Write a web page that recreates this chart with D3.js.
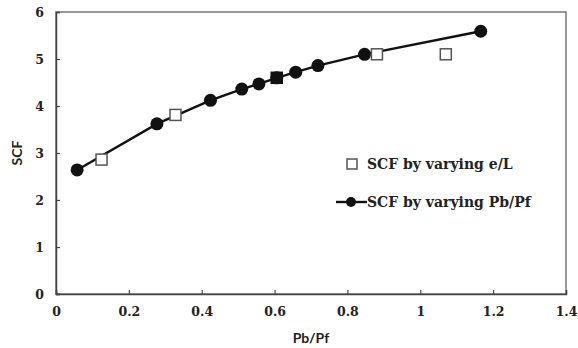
<!DOCTYPE html>
<html>
<head>
<meta charset="utf-8">
<script src="https://cdn.jsdelivr.net/npm/d3@7"></script>
<style>
  body { margin: 0; background: #fff; }
  .tick text { font-family: "DejaVu Serif", serif; font-weight: bold; font-size: 12.5px; fill: #222; }
  .title { font-family: Lato, "Open Sans", sans-serif; font-weight: bold; font-size: 14px; fill: #222; }
  .legend text { font-family: "DejaVu Serif", serif; font-weight: bold; font-size: 14px; fill: #222; }
</style>
</head>
<body>
<svg id="chart" width="578" height="348"></svg>
<script>
// SCF by varying Pb/Pf (line + filled circles)
var pbX = [0.058, 0.277, 0.424, 0.510, 0.557, 0.606, 0.658, 0.719, 0.847, 1.166];
var pbY = [2.64, 3.62, 4.12, 4.36, 4.47, 4.60, 4.72, 4.86, 5.10, 5.59];

// SCF by varying e/L (open squares)
var elX = [0.125, 0.328, 0.606, 0.881, 1.070];
var elY = [2.86, 3.81, 4.60, 5.10, 5.10];

var xTicks = [0, 0.2, 0.4, 0.6, 0.8, 1, 1.2, 1.4];
var yTicks = [0, 1, 2, 3, 4, 5, 6];

var svg = d3.select("#chart"),
    margin = { top: 12, right: 12, bottom: 54, left: 56 },
    width = +svg.attr("width") - margin.left - margin.right,
    height = +svg.attr("height") - margin.top - margin.bottom;

var x = d3.scaleLinear().domain([0, 1.4]).range([0, width]);
var y = d3.scaleLinear().domain([0, 6]).range([height, 0]);

var g = svg.append("g")
    .attr("transform", "translate(" + margin.left + "," + margin.top + ")");

// plot frame
g.append("rect")
    .attr("width", width)
    .attr("height", height)
    .attr("fill", "none")
    .attr("stroke", "#777")
    .attr("stroke-width", 1.5);

// axes with inward ticks
var fmt = function (d) { return String(+d.toFixed(1)); };
var xAxis = g.append("g")
    .attr("transform", "translate(0," + height + ")")
    .call(d3.axisBottom(x).tickValues(xTicks).tickSize(-4).tickPadding(13).tickFormat(fmt));
var yAxis = g.append("g")
    .call(d3.axisLeft(y).tickValues(yTicks).tickSize(-4).tickPadding(12).tickFormat(fmt));

[xAxis, yAxis].forEach(function (a) {
    a.select(".domain").attr("stroke", "#444").attr("stroke-width", 1.5);
    a.selectAll(".tick line").attr("stroke", "#444").attr("stroke-width", 1.2);
});

// axis titles
svg.append("text")
    .attr("class", "title")
    .attr("x", margin.left + width / 2)
    .attr("y", 343)
    .attr("text-anchor", "middle")
    .text("Pb/Pf");

svg.append("text")
    .attr("class", "title")
    .attr("transform", "translate(22," + (margin.top + height / 2) + ") rotate(-90)")
    .attr("text-anchor", "middle")
    .text("SCF");

// Pb/Pf series
var pbData = pbX.map(function (v, i) { return { x: v, y: pbY[i] }; });
var elData = elX.map(function (v, i) { return { x: v, y: elY[i] }; });

var line = d3.line()
    .x(function (d) { return x(d.x); })
    .y(function (d) { return y(d.y); });

g.append("path")
    .datum(pbData)
    .attr("d", line)
    .attr("fill", "none")
    .attr("stroke", "#111")
    .attr("stroke-width", 2.4);

g.selectAll(".dot")
    .data(pbData)
    .enter().append("circle")
    .attr("class", "dot")
    .attr("cx", function (d) { return x(d.x); })
    .attr("cy", function (d) { return y(d.y); })
    .attr("r", 6.5)
    .attr("fill", "#111");

// e/L squares (filled where it sits on a Pb/Pf point)
var sq = 11;
g.selectAll(".sq")
    .data(elData)
    .enter().append("rect")
    .attr("class", "sq")
    .attr("x", function (d) { return x(d.x) - sq / 2; })
    .attr("y", function (d) { return y(d.y) - sq / 2; })
    .attr("width", sq)
    .attr("height", sq)
    .attr("fill", function (d) {
        return pbX.indexOf(d.x) >= 0 ? "#111" : "#fff";
    })
    .attr("stroke", function (d) {
        return pbX.indexOf(d.x) >= 0 ? "#111" : "#555";
    })
    .attr("stroke-width", 1.5);

// legend
var legend = svg.append("g").attr("class", "legend");

legend.append("rect")
    .attr("x", 347).attr("y", 159)
    .attr("width", 10).attr("height", 10)
    .attr("fill", "#fff").attr("stroke", "#555").attr("stroke-width", 1.5);
legend.append("text")
    .attr("x", 367).attr("y", 169)
    .text("SCF by varying e/L");

legend.append("line")
    .attr("x1", 336).attr("x2", 367)
    .attr("y1", 202).attr("y2", 202)
    .attr("stroke", "#111").attr("stroke-width", 2.4);
legend.append("circle")
    .attr("cx", 351).attr("cy", 202).attr("r", 5)
    .attr("fill", "#111");
legend.append("text")
    .attr("x", 367).attr("y", 207)
    .text("SCF by varying Pb/Pf");
</script>
</body>
</html>
